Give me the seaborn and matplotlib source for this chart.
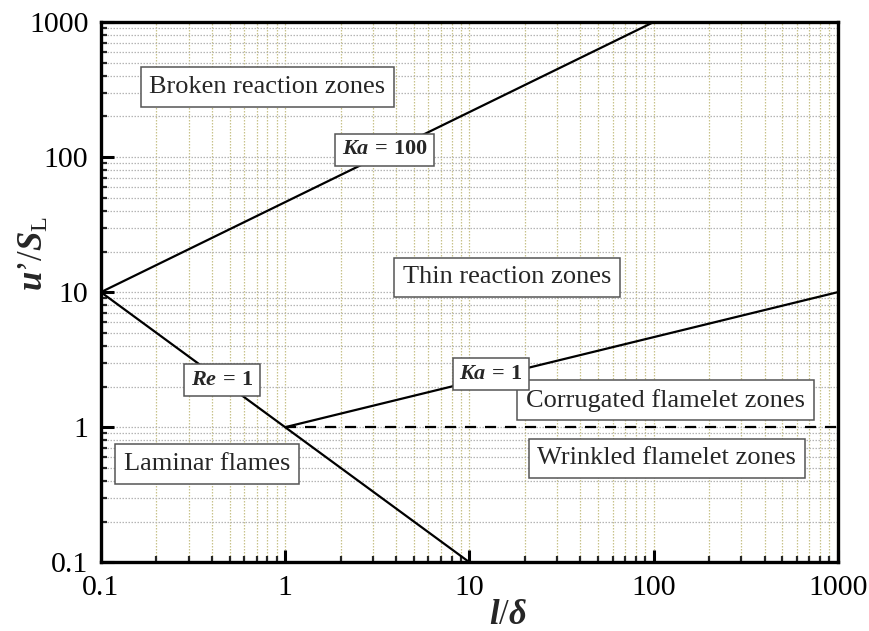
import matplotlib
matplotlib.use("Agg")
import matplotlib.pyplot as plt
import matplotlib.ticker as mticker
import seaborn as sns
import pandas as pd

# ---- data ----
re1_x = [0.1, 10]
re1_y = [10, 0.1]
ka1_x = [1, 1000]
ka1_y = [1, 10]
ka100_x = [0.1, 100]
ka100_y = [10, 1000]
wrinkle_x = [1, 1000]
wrinkle_y = [1, 1]

tick_vals = [0.1, 1, 10, 100, 1000]
tick_labels = ["0.1", "1", "10", "100", "1000"]

zone_labels = ["Broken reaction zones", "Thin reaction zones", "Corrugated flamelet zones",
               "Wrinkled flamelet zones", "Laminar flames"]
zone_x = [0.80, 16.0, 116, 118, 0.376]
zone_y = [331, 12.9, 1.585, 0.589, 0.532]

line_labels = [r"$Ka\,\mathbf{=\,100}$", r"$Re\,\mathbf{=\,1}$", r"$Ka\,\mathbf{=\,1}$"]
line_lab_x = [3.47, 0.454, 13.1]
line_lab_y = [113, 2.23, 2.47]

# ---- style ----
sns.set_theme(style="white")
plt.rcParams['font.family'] = ['Liberation Serif', 'DejaVu Serif']
plt.rcParams['mathtext.fontset'] = 'custom'
plt.rcParams['mathtext.rm'] = 'Liberation Serif'
plt.rcParams['mathtext.it'] = 'Liberation Serif:italic:bold'
plt.rcParams['mathtext.bf'] = 'Liberation Serif:bold'

fig = plt.figure(figsize=(8.7, 6.31), dpi=100)
ax = fig.add_axes([0.116, 0.109, 0.847, 0.856])

lw = 1.6
for xs, ys, ls in [(re1_x, re1_y, '-'), (ka1_x, ka1_y, '-'), (ka100_x, ka100_y, '-'),
                   (wrinkle_x, wrinkle_y, '--')]:
    df = pd.DataFrame({"x": xs, "y": ys})
    sns.lineplot(data=df, x="x", y="y", ax=ax, color="black", lw=lw, linestyle=ls,
                 zorder=3)
ax.lines[-1].set_dashes([5, 4])

ax.set_xscale("log")
ax.set_yscale("log")
ax.set_xlim(0.1, 1000)
ax.set_ylim(0.1, 1000)

ax.xaxis.set_major_locator(mticker.FixedLocator(tick_vals))
ax.yaxis.set_major_locator(mticker.FixedLocator(tick_vals))
ax.xaxis.set_major_formatter(mticker.FixedFormatter(tick_labels))
ax.yaxis.set_major_formatter(mticker.FixedFormatter(tick_labels))
ax.xaxis.set_minor_locator(mticker.LogLocator(base=10, subs=range(2, 10), numticks=20))
ax.yaxis.set_minor_locator(mticker.LogLocator(base=10, subs=range(2, 10), numticks=20))
ax.xaxis.set_minor_formatter(mticker.NullFormatter())
ax.yaxis.set_minor_formatter(mticker.NullFormatter())

ax.tick_params(which='major', direction='in', length=9, width=2.2, labelsize=21.5,
               colors='black', pad=9, bottom=True, left=True, top=False, right=False)
ax.tick_params(which='minor', direction='in', length=4, width=1.6,
               bottom=True, left=True, top=False, right=False)

ax.grid(which='both', axis='x', color='#c8c28a', linestyle=(0, (1.2, 1.2)), lw=0.9)
ax.grid(which='both', axis='y', color='#b5b5b5', linestyle=(0, (1.2, 1.2)), lw=0.9)
ax.set_axisbelow(True)

for s in ax.spines.values():
    s.set_color('black')
    s.set_linewidth(2.4)

ax.set_xlabel(r"$l/\delta$", fontsize=25)
ax.set_ylabel("$u\u2019/S_{\\mathrm{L}}$", fontsize=25)
ax.xaxis.set_label_coords(0.552, -0.068)
ax.yaxis.set_label_coords(-0.068, 0.572)

box = dict(boxstyle='square,pad=0.33', fc='white', ec='#555555', lw=1.1)
for t, x, y in zip(zone_labels, zone_x, zone_y):
    ax.text(x, y, t, fontsize=19, ha='center', va='center', bbox=box, zorder=5)
box2 = dict(boxstyle='square,pad=0.3', fc='white', ec='#555555', lw=1.1)
for t, x, y in zip(line_labels, line_lab_x, line_lab_y):
    ax.text(x, y, t, fontsize=16, ha='center', va='center', bbox=box2, zorder=5)

fig.savefig("out.png", dpi=100)
